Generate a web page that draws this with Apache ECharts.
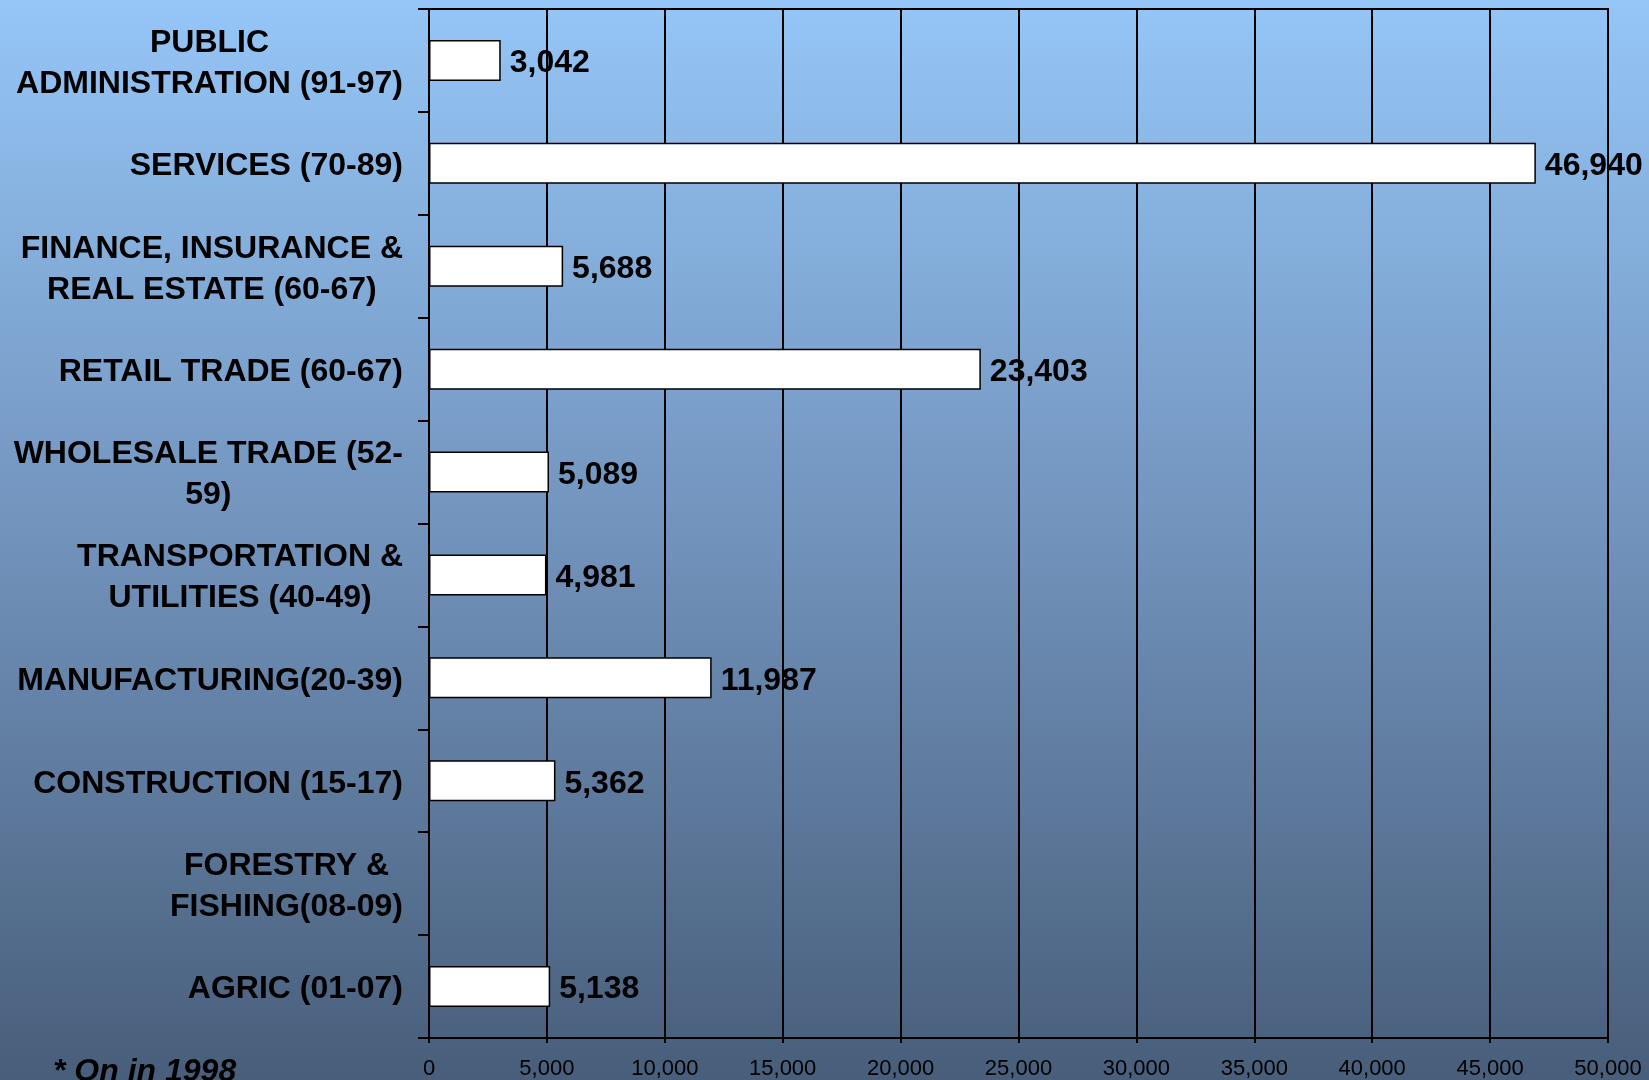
<!DOCTYPE html>
<html>
<head>
<meta charset="utf-8">
<script src="https://cdn.jsdelivr.net/npm/echarts@6/dist/echarts.min.js"></script>
<style>
html,body{margin:0;padding:0;width:1649px;height:1080px;overflow:hidden;background:#6f8fb6;}
#chart{width:1649px;height:1080px;}
</style>
</head>
<body>
<div id="chart"></div>
<script>
// Categories listed bottom to top (ECharts category y-axis starts at bottom)
const categories = [
  "AGRIC (01-07)",
  "FORESTRY &\nFISHING(08-09)",
  "CONSTRUCTION (15-17)",
  "MANUFACTURING(20-39)",
  "TRANSPORTATION &\nUTILITIES (40-49)",
  "WHOLESALE TRADE (52-\n59)",
  "RETAIL TRADE (60-67)",
  "FINANCE, INSURANCE &\nREAL ESTATE (60-67)",
  "SERVICES (70-89)",
  "PUBLIC\nADMINISTRATION (91-97)"
];
const employment = [5138, null, 5362, 11987, 4981, 5089, 23403, 5688, 46940, 3042];
const xTicks = { min: 0, max: 50000, interval: 5000 };
const footnote = "* On in 1998";

const FONT = "'Liberation Sans', Arial, sans-serif";
function fmt(v) { return String(v).replace(/\B(?=(\d{3})+(?!\d))/g, ","); }

const chart = echarts.init(document.getElementById('chart'));
chart.setOption({
  animation: false,
  backgroundColor: {
    type: 'linear', x: 0, y: 0, x2: 0, y2: 1,
    colorStops: [
      { offset: 0, color: '#95c6f7' },
      { offset: 0.5, color: '#7192bb' },
      { offset: 1, color: '#485e7a' }
    ]
  },
  grid: {
    left: 429, right: 41, top: 9, bottom: 42,
    show: true, borderColor: '#000', borderWidth: 2, backgroundColor: 'transparent'
  },
  xAxis: {
    type: 'value',
    min: xTicks.min, max: xTicks.max, interval: xTicks.interval,
    axisLine: { show: true, lineStyle: { color: '#000', width: 2 } },
    axisTick: { show: true, length: 5, lineStyle: { color: '#000', width: 2 } },
    splitLine: { show: true, lineStyle: { color: '#000', width: 2 } },
    axisLabel: {
      color: '#000', fontFamily: FONT, fontSize: 22, margin: 20,
      formatter: v => fmt(v)
    }
  },
  yAxis: {
    type: 'category',
    data: categories,
    axisLine: { show: true, lineStyle: { color: '#000', width: 2 } },
    axisTick: { show: true, length: 11, lineStyle: { color: '#000', width: 2 } },
    splitLine: { show: false },
    axisLabel: {
      margin: 26,
      align: 'right',
      padding: [6, 0, 0, 0],
      formatter: v => v.split('\n').map(l => '{c|' + l + '}').join('\n'),
      rich: {
        c: {
          align: 'center', color: '#000', fontFamily: FONT, fontWeight: 'bold',
          fontSize: 32, lineHeight: 41
        }
      }
    }
  },
  series: [{
    type: 'bar',
    data: employment,
    barWidth: 41,
    itemStyle: { color: '#ffffff', borderColor: '#000', borderWidth: 1.5 },
    label: {
      show: true, position: 'right', distance: 9, offset: [0, 3],
      color: '#000', fontFamily: FONT, fontWeight: 'bold', fontSize: 32,
      formatter: p => fmt(p.value)
    }
  }],
  graphic: [{
    type: 'text', left: 53, top: 1056,
    style: {
      text: footnote, fill: '#000',
      font: "italic bold 32px 'Liberation Sans', Arial, sans-serif"
    }
  }]
});
</script>
</body>
</html>
